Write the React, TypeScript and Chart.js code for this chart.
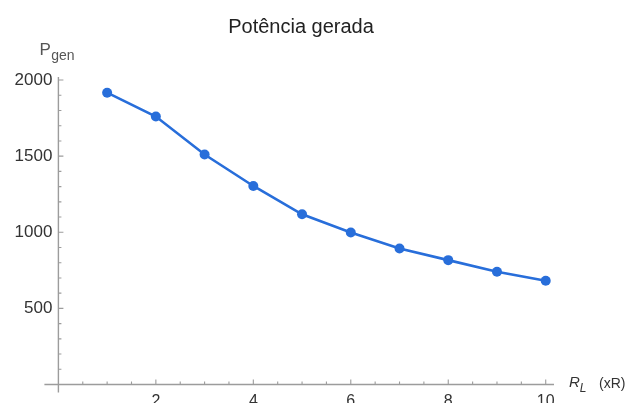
import React, { useEffect, useRef } from 'react';
import { Chart, registerables } from 'chart.js';

Chart.register(...registerables);

// Load resistance (multiples of R) and generated power
const RL_VALUES = [1, 2, 3, 4, 5, 6, 7, 8, 9, 10];
const P_GEN = [1917, 1760, 1511, 1304, 1118, 998, 893, 817, 741, 682];

// Labelled ticks
const X_TICK_LABELS = [2, 4, 6, 8, 10];
const Y_TICK_LABELS = [500, 1000, 1500, 2000];
const X_MINOR_STEP = 0.5;
const Y_MINOR_STEP = 100;
const X_MAX = 10.17;
const Y_MAX = 2020;

const TITLE = 'Potência gerada';
const Y_NAME = 'P';
const Y_SUB = 'gen';
const X_NAME = 'R';
const X_SUB = 'L';
const X_UNIT = '(xR)';

const FONT = '"Liberation Sans", Arial, sans-serif';
const BLUE = 'rgb(40, 110, 218)';
const AXIS_COLOR = '#9c9c9c';
const TEXT_COLOR = '#333333';

const CANVAS_H = 430;

// Axes crossing at the origin with inward major/minor ticks, plus title and axis names
const axesPlugin = {
  id: 'originAxes',
  beforeDatasetsDraw(chart: any) {
    const { ctx, scales } = chart;
    const x = scales.x;
    const y = scales.y;
    const x0 = x.getPixelForValue(0);
    const y0 = y.getPixelForValue(0);
    ctx.save();
    ctx.strokeStyle = AXIS_COLOR;
    ctx.lineWidth = 1.4;
    ctx.beginPath();
    ctx.moveTo(x0 - 14, y0);
    ctx.lineTo(x.getPixelForValue(X_MAX), y0);
    ctx.moveTo(x0, y0 + 8);
    ctx.lineTo(x0, y.getPixelForValue(Y_MAX));
    ctx.stroke();

    ctx.lineWidth = 1.1;
    ctx.beginPath();
    const nx = Math.floor(X_MAX / X_MINOR_STEP + 1e-9);
    for (let i = 1; i <= nx; i++) {
      const v = i * X_MINOR_STEP;
      const major = X_TICK_LABELS.some((t) => Math.abs(t - v) < 1e-6);
      const px = x.getPixelForValue(v);
      ctx.moveTo(px, y0);
      ctx.lineTo(px, y0 - (major ? 5 : 3));
    }
    const ny = Math.floor(Y_MAX / Y_MINOR_STEP + 1e-9);
    for (let i = 1; i <= ny; i++) {
      const v = i * Y_MINOR_STEP;
      const major = Y_TICK_LABELS.some((t) => Math.abs(t - v) < 1e-6);
      const py = y.getPixelForValue(v);
      ctx.moveTo(x0, py);
      ctx.lineTo(x0 + (major ? 5 : 3), py);
    }
    ctx.stroke();
    ctx.restore();
  },
  afterDraw(chart: any) {
    const { ctx, chartArea } = chart;
    ctx.save();
    ctx.fillStyle = '#222222';
    ctx.textBaseline = 'alphabetic';
    ctx.textAlign = 'center';
    ctx.font = `20px ${FONT}`;
    ctx.fillText(TITLE, 301, 33);

    // y-axis name P_gen
    ctx.textAlign = 'left';
    ctx.fillStyle = '#555555';
    ctx.font = `17px ${FONT}`;
    const px = chartArea.left - 19;
    ctx.fillText(Y_NAME, px, 55);
    const pw = ctx.measureText(Y_NAME).width;
    ctx.font = `14px ${FONT}`;
    ctx.fillText(Y_SUB, px + pw + 0.5, 60);

    // x-axis name R_L (xR)
    ctx.fillStyle = TEXT_COLOR;
    ctx.font = `italic 15px ${FONT}`;
    const rx = chartArea.right + 15;
    ctx.fillText(X_NAME, rx, 387);
    const rw = ctx.measureText(X_NAME).width;
    ctx.font = `italic 12px ${FONT}`;
    ctx.fillText(X_SUB, rx + rw, 392);
    ctx.font = `14px ${FONT}`;
    ctx.fillText(X_UNIT, 599, 388);
    ctx.restore();
  },
};

export default function App() {
  const canvasRef = useRef<HTMLCanvasElement | null>(null);

  useEffect(() => {
    if (!canvasRef.current) return;
    const chart = new Chart(canvasRef.current, {
      type: 'line',
      data: {
        datasets: [
          {
            data: RL_VALUES.map((v, i) => ({ x: v, y: P_GEN[i] })),
            borderColor: BLUE,
            backgroundColor: BLUE,
            borderWidth: 2.6,
            pointRadius: 5,
            pointHoverRadius: 5,
            pointBorderWidth: 0,
            tension: 0,
          },
        ],
      },
      options: {
        animation: false,
        responsive: true,
        maintainAspectRatio: false,
        layout: { padding: { top: 77, right: 74, left: 0, bottom: 0 } },
        plugins: {
          legend: { display: false },
          title: { display: false },
          tooltip: { enabled: false },
        },
        scales: {
          x: {
            type: 'linear',
            min: 0,
            max: X_MAX,
            grid: { display: false, drawTicks: false, tickLength: 0 },
            border: { display: false },
            ticks: {
              padding: 7,
              color: TEXT_COLOR,
              font: { family: FONT, size: 16 },
              callback: (v: any) => String(v),
            },
            afterBuildTicks: (s: any) => {
              s.ticks = X_TICK_LABELS.map((v) => ({ value: v }));
            },
            afterFit: (s: any) => {
              s.height = CANVAS_H - 384.5;
            },
          },
          y: {
            type: 'linear',
            min: 0,
            max: Y_MAX,
            grid: { display: false, drawTicks: false, tickLength: 0 },
            border: { display: false },
            ticks: {
              padding: 6,
              color: TEXT_COLOR,
              font: { family: FONT, size: 17 },
              callback: (v: any) => String(v),
            },
            afterBuildTicks: (s: any) => {
              s.ticks = Y_TICK_LABELS.map((v) => ({ value: v }));
            },
            afterFit: (s: any) => {
              s.width = 58.4;
            },
          },
        },
      },
      plugins: [axesPlugin],
    });
    return () => chart.destroy();
  }, []);

  return (
    <div
      style={{
        position: 'fixed',
        left: 0,
        top: 0,
        width: 628,
        height: 403,
        overflow: 'hidden',
        background: '#ffffff',
      }}
    >
      <div style={{ position: 'relative', width: 628, height: CANVAS_H }}>
        <canvas ref={canvasRef} />
      </div>
    </div>
  );
}
